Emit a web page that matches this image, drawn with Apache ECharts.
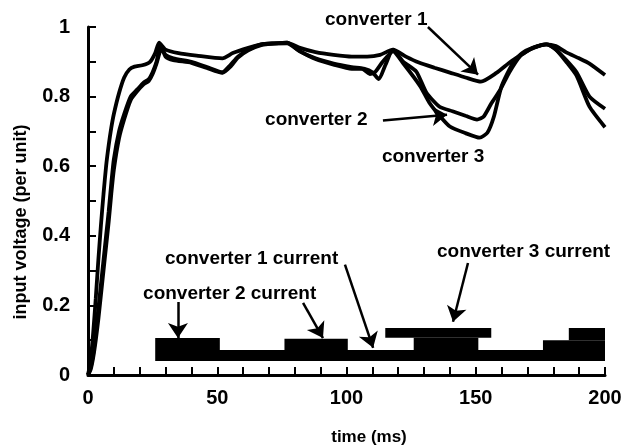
<!DOCTYPE html>
<html>
<head>
<meta charset="utf-8">
<script src="https://cdn.jsdelivr.net/npm/echarts@6/dist/echarts.min.js"></script>
<style>
  html, body { margin: 0; padding: 0; background: #fff; }
  #chart { width: 629px; height: 447px; }
</style>
</head>
<body>
<div id="chart"></div>
<script>
// voltage traces (time in ms, voltage per unit)
var conv1Time = [0, 1, 2, 3, 4, 5, 6, 7, 8, 9, 10, 12, 14, 16, 18, 21, 24, 26, 27.5, 30, 35, 42, 52, 56, 62, 67, 72, 77, 82, 88, 95, 102, 108, 113, 118, 123, 128, 134, 140, 146, 152, 158, 164, 171, 177, 181, 185, 190, 194, 200];
var conv1Volt = [0, 0.04, 0.12, 0.22, 0.33, 0.43, 0.52, 0.6, 0.66, 0.71, 0.75, 0.81, 0.855, 0.878, 0.886, 0.89, 0.9, 0.925, 0.955, 0.935, 0.925, 0.918, 0.91, 0.925, 0.94, 0.95, 0.953, 0.955, 0.94, 0.928, 0.92, 0.915, 0.915, 0.92, 0.935, 0.915, 0.898, 0.883, 0.869, 0.855, 0.843, 0.868, 0.903, 0.935, 0.95, 0.945, 0.927, 0.91, 0.895, 0.862];

var conv2Time = [0, 1, 2, 3, 4, 5, 6, 7, 8, 9, 10, 12, 14, 16.5, 19, 21.5, 23.5, 25, 26.5, 28, 30, 33, 40, 46, 52, 55, 58, 62, 67, 72, 77, 82, 88, 95, 102, 107, 110, 112.5, 115, 118, 122, 127, 131, 136, 141, 146, 150.5, 153, 156, 159.5, 163, 167, 172, 177.5, 181, 185, 189, 194, 200];
var conv2Volt = [0, 0.02, 0.06, 0.12, 0.19, 0.26, 0.33, 0.4, 0.47, 0.55, 0.62, 0.7, 0.75, 0.8, 0.82, 0.84, 0.85, 0.87, 0.9, 0.945, 0.92, 0.91, 0.9, 0.885, 0.87, 0.89, 0.915, 0.935, 0.95, 0.953, 0.955, 0.93, 0.91, 0.895, 0.885, 0.88, 0.87, 0.85, 0.89, 0.935, 0.9, 0.872, 0.81, 0.771, 0.758, 0.745, 0.734, 0.742, 0.78, 0.82, 0.87, 0.915, 0.94, 0.95, 0.935, 0.905, 0.87, 0.8, 0.765];

var conv3Time = [0, 1, 2, 3, 4, 5, 6, 7, 8, 9, 10, 12, 14, 16.5, 19, 21.5, 23.5, 25, 26.5, 28.5, 30, 33, 40, 46, 52, 55, 58, 62, 67, 72, 77, 82, 88, 95, 102, 106, 109, 111, 114, 118, 122, 128.5, 132, 136, 140, 146, 151.5, 154.5, 157, 160, 164.5, 168, 172, 177.5, 181, 185, 189, 194, 200];
var conv3Volt = [0, 0.015, 0.05, 0.1, 0.16, 0.23, 0.3, 0.37, 0.44, 0.52, 0.59, 0.68, 0.735, 0.79, 0.815, 0.835, 0.845, 0.865, 0.895, 0.94, 0.915, 0.905, 0.897, 0.882, 0.868, 0.885, 0.912, 0.933, 0.948, 0.952, 0.953, 0.93, 0.908, 0.892, 0.88, 0.88, 0.865, 0.87, 0.9, 0.93, 0.895, 0.83, 0.783, 0.745, 0.714, 0.695, 0.682, 0.696, 0.742, 0.83, 0.898, 0.925, 0.94, 0.95, 0.935, 0.9, 0.86, 0.771, 0.712];

// current blocks drawn at the bottom
var currentStart = [26, 26, 76, 115, 126, 176, 186];
var currentEnd   = [200, 51, 100.5, 156, 151, 200, 200];
var currentLow   = [0.04, 0.072, 0.072, 0.107, 0.072, 0.072, 0.1];
var currentHigh  = [0.072, 0.106, 0.104, 0.135, 0.107, 0.1, 0.135];

// annotations (data coordinates)
var noteText = ['converter 1', 'converter 2', 'converter 3', 'converter 1 current', 'converter 2 current', 'converter 3 current'];
var noteTime = [91.7, 68.5, 113.7, 29.8, 21.3, 135];
var noteVolt = [1.022, 0.734, 0.627, 0.334, 0.233, 0.354];

var arrowFromT = [131.5, 114.1, 99.4, 34.8, 83.2, 147];
var arrowFromV = [1.0, 0.731, 0.317, 0.21, 0.207, 0.322];
var arrowToT   = [150.9, 138.9, 110.3, 34.8, 90.9, 141.2];
var arrowToV   = [0.863, 0.748, 0.078, 0.106, 0.106, 0.153];

var xTicks = [0, 50, 100, 150, 200];

function pairs(ts, vs){
    var out = [];
    for (var i = 0; i < ts.length; i++) out.push([ts[i], vs[i]]);
    return out;
}

var FONT = 'Liberation Sans';
var chart = echarts.init(document.getElementById('chart'), null, {renderer: 'canvas'});

var blocks = [];
for (var i = 0; i < currentStart.length; i++) {
    blocks.push([currentStart[i], currentEnd[i], currentLow[i], currentHigh[i]]);
}

var arrows = [];
for (var j = 0; j < arrowFromT.length; j++) {
    arrows.push({coords: [[arrowFromT[j], arrowFromV[j]], [arrowToT[j], arrowToV[j]]]});
}

function voltSeries(name, data){
    return {
        name: name,
        type: 'line',
        data: data,
        showSymbol: false,
        symbol: 'none',
        smooth: 0.2,
        clip: false,
        lineStyle: {color: '#000', width: 3.8},
        z: 3
    };
}

chart.setOption({
    animation: false,
    backgroundColor: '#fff',
    grid: {left: 88, right: 24, top: 27, bottom: 72},
    xAxis: {
        type: 'value', min: 0, max: 200, interval: 10,
        axisLine: {show: true, onZero: false, lineStyle: {color: '#000', width: 3}},
        axisTick: {show: true, inside: true, length: 8, lineStyle: {color: '#000', width: 2}},
        splitLine: {show: false},
        axisLabel: {
            margin: 13, color: '#000', fontFamily: FONT, fontWeight: 'bold', fontSize: 20,
            formatter: function(v){ return xTicks.indexOf(v) >= 0 ? String(v) : ''; }
        }
    },
    yAxis: {
        type: 'value', min: 0, max: 1, interval: 0.1,
        axisLine: {show: true, onZero: false, lineStyle: {color: '#000', width: 3}},
        axisTick: {show: true, inside: true, length: 8, lineStyle: {color: '#000', width: 2}},
        splitLine: {show: false},
        axisLabel: {
            margin: 18, color: '#000', fontFamily: FONT, fontWeight: 'bold', fontSize: 20,
            formatter: function(v){
                var k = Math.round(v * 10);
                if (k % 2 !== 0) return '';
                if (k === 0) return '0';
                if (k === 10) return '1';
                return '0.' + k;
            }
        }
    },
    series: [
        voltSeries('converter 1', pairs(conv1Time, conv1Volt)),
        voltSeries('converter 2', pairs(conv2Time, conv2Volt)),
        voltSeries('converter 3', pairs(conv3Time, conv3Volt)),
        {
            name: 'currents',
            type: 'custom',
            data: blocks,
            encode: {x: [0, 1], y: [2, 3]},
            renderItem: function(params, api){
                var p0 = api.coord([api.value(0), api.value(3)]);
                var p1 = api.coord([api.value(1), api.value(2)]);
                return {
                    type: 'rect',
                    shape: {x: p0[0], y: p0[1], width: p1[0] - p0[0], height: p1[1] - p0[1]},
                    style: {fill: '#000'}
                };
            },
            z: 2
        },
        {
            name: 'arrows',
            type: 'lines',
            coordinateSystem: 'cartesian2d',
            data: arrows,
            symbol: ['none', 'arrow'],
            symbolSize: 15,
            lineStyle: {color: '#000', width: 2.5, opacity: 1},
            z: 4
        }
    ]
});

// annotation text placed at data coordinates
var graphics = [];
for (var n = 0; n < noteText.length; n++) {
    var p = chart.convertToPixel({gridIndex: 0}, [noteTime[n], noteVolt[n]]);
    graphics.push({
        type: 'text', x: p[0], y: p[1], z: 10,
        style: {text: noteText[n], fill: '#000', font: 'bold 19px ' + FONT, textAlign: 'left', textVerticalAlign: 'middle'}
    });
}
graphics.push({
    type: 'text', x: 369, y: 437, z: 10,
    style: {text: 'time (ms)', fill: '#000', font: 'bold 17px ' + FONT, textAlign: 'center', textVerticalAlign: 'middle'}
});
graphics.push({
    type: 'text', x: 21, y: 222, rotation: Math.PI / 2, z: 10,
    style: {text: 'input voltage (per unit)', fill: '#000', font: 'bold 18px ' + FONT, textAlign: 'center', textVerticalAlign: 'middle'}
});
chart.setOption({graphic: graphics});
</script>
</body>
</html>
